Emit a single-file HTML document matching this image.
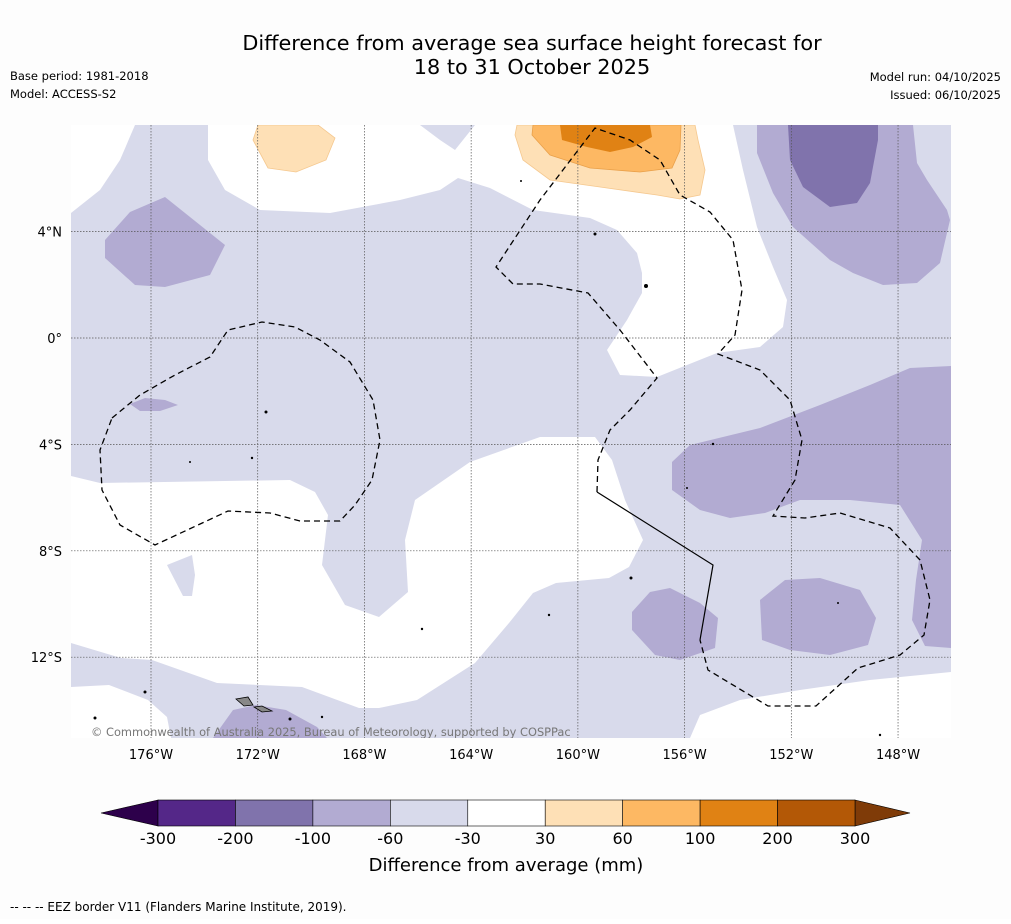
<!DOCTYPE html>
<html><head><meta charset="utf-8"><style>
html,body{margin:0;padding:0;background:#fff;}
body{width:1011px;height:919px;overflow:hidden;font-family:"Liberation Sans","DejaVu Sans",sans-serif;}
</style></head><body>
<svg id="chart" width="1011" height="919" xmlns="http://www.w3.org/2000/svg" font-family="'DejaVu Sans','Liberation Sans',sans-serif">
<rect width="1011" height="919" fill="#fdfdfd"/>
<text x="532" y="50" font-size="20.8" text-anchor="middle">Difference from average sea surface height forecast for</text>
<text x="532" y="74" font-size="20.8" text-anchor="middle">18 to 31 October 2025</text>
<text x="10" y="80" font-size="11.5">Base period: 1981-2018</text>
<text x="10" y="98" font-size="11.5">Model: ACCESS-S2</text>
<text x="1001" y="81" font-size="11.5" text-anchor="end">Model run: 04/10/2025</text>
<text x="1001" y="99" font-size="11.5" text-anchor="end">Issued: 06/10/2025</text>
<defs><clipPath id="mapclip"><rect x="71" y="125" width="880" height="613"/></clipPath></defs>
<g id="map" clip-path="url(#mapclip)">
<rect x="71" y="125" width="880" height="613" fill="#d8daeb"/>
<path fill="#fff" d="M71,125 L135,125 L120,160 L100,190 L71,213 Z"/>
<path fill="#fff" d="M208,125 L208,160 L225,190 L260,210 L330,213 L400,200 L440,190 L458,178 L490,188 L533,210 L590,218 L617,230 L637,253 L642,273 L642,293 L627,320 L607,350 L620,375 L657,377 L717,353 L760,347 L783,327 L787,300 L773,267 L757,227 L743,170 L733,125 L475,125 L455,150 L440,140 L420,125 Z"/>
<path fill="#fee0b6" stroke="#f5c88f" stroke-width="0.8" d="M517,125 L515,135 L523,160 L550,180 L600,187 L657,195 L680,199 L700,195 L705,170 L698,140 L695,125 Z"/>
<path fill="#fdb863" stroke="#e9a04a" stroke-width="0.8" d="M533,125 L532,135 L550,155 L590,168 L640,172 L672,168 L680,150 L681,125 Z"/>
<path fill="#e08214" d="M560,125 L562,140 L587,147 L610,152 L633,147 L652,137 L650,125 Z"/>
<path fill="#fee0b6" stroke="#f5c88f" stroke-width="0.8" d="M258,125 L253,140 L268,168 L296,172 L326,160 L335,138 L318,125 Z"/>
<path fill="#fff" d="M71,476 L100,483 L290,480 L315,492 L328,515 L322,565 L345,605 L379,617 L408,592 L405,540 L415,500 L470,462 L540,437 L595,437 L612,460 L625,500 L643,540 L629,567 L609,578 L556,583 L533,593 L509,623 L475,663 L417,700 L379,708 L359,708 L302,687 L217,683 L152,660 L121,658 L71,643 Z"/>
<path fill="#d8daeb" d="M167,565 L192,555 L195,575 L192,596 L183,596 Z"/>
<path fill="#fff" d="M71,687 L109,685 L148,700 L167,717 L171,738 L71,738 Z"/>
<path fill="#b2abd2" d="M213,738 L233,710 L256,705 L286,710 L317,727 L327,738 Z"/>
<path fill="#b2abd2" d="M105,240 L130,212 L165,197 L200,225 L225,245 L210,275 L165,287 L135,285 L105,258 Z"/>
<path fill="#b2abd2" d="M130,404 L145,398 L165,400 L178,405 L160,411 L140,411 Z"/>
<path fill="#b2abd2" d="M757,125 L757,153 L773,193 L793,227 L830,260 L853,273 L883,285 L917,283 L940,263 L950,220 L947,210 L927,180 L917,163 L913,125 Z"/>
<path fill="#8073ac" d="M788,125 L790,160 L803,187 L830,207 L857,203 L870,183 L878,140 L878,125 Z"/>
<path fill="#b2abd2" d="M672,462 L690,445 L760,428 L820,405 L870,385 L910,368 L951,366 L951,648 L925,646 L912,620 L916,580 L922,540 L900,505 L850,500 L800,500 L765,513 L730,518 L700,510 L672,490 Z"/>
<path fill="#b2abd2" d="M760,600 L785,580 L820,578 L860,590 L876,618 L868,645 L830,655 L790,650 L762,640 Z"/>
<path fill="#b2abd2" d="M632,612 L650,592 L670,588 L700,603 L718,618 L715,648 L680,660 L655,655 L632,630 Z"/>
<path fill="#fff" d="M951,672 L870,680 L800,690 L740,700 L700,715 L690,738 L951,738 Z"/>
<g id="grid"></g>
<path fill="none" stroke="#000" stroke-width="1.3" stroke-dasharray="6,4" d="M597,492 L598,460 L610,430 L630,410 L657,378 L620,330 L588,293 L540,284 L513,284 L496,267 L540,200 L595,128 L630,140 L660,160 L680,195 L710,212 L733,240 L742,290 L735,335 L718,354 L760,370 L790,400 L802,440 L795,480 L773,516 L805,518 L840,513 L890,528 L920,560 L930,600 L924,635 L900,655 L858,668 L816,706 L768,706 L708,670 L700,640"/>
<path fill="none" stroke="#000" stroke-width="1.2" d="M597,492 L713,565 L700,640"/>
<path fill="none" stroke="#000" stroke-width="1.3" stroke-dasharray="6,4" d="M112,418 L140,395 L175,375 L210,357 L228,330 L262,322 L295,327 L320,340 L350,362 L373,400 L380,440 L372,480 L355,505 L340,521 L300,521 L270,513 L228,511 L155,545 L120,525 L102,490 L100,450 L112,418"/>
<path fill="#888" stroke="#000" stroke-width="0.8" d="M236,699 L248,697 L253,705 L244,706 Z M254,707 L262,706 L272,711 L262,712 Z"/>
<g fill="#000">
<circle cx="266" cy="412" r="1.5"/><circle cx="252" cy="458" r="1.2"/><circle cx="190" cy="462" r="1"/><circle cx="145" cy="692" r="1.5"/><circle cx="95" cy="718" r="1.5"/><circle cx="290" cy="719" r="1.5"/><circle cx="322" cy="717" r="1.2"/><circle cx="422" cy="629" r="1.2"/><circle cx="549" cy="615" r="1.2"/><circle cx="631" cy="578" r="1.5"/><circle cx="646" cy="286" r="2"/><circle cx="595" cy="234" r="1.5"/><circle cx="713" cy="444" r="1.2"/><circle cx="687" cy="488" r="1"/><circle cx="838" cy="603" r="1"/><circle cx="521" cy="181" r="1"/><circle cx="880" cy="735" r="1.2"/>
</g>
<text x="91" y="736" font-size="11.4" fill="#777">© Commonwealth of Australia 2025, Bureau of Meteorology, supported by COSPPac</text>
</g>
<g id="axes"></g>
<g id="colorbar"></g>
<text x="506" y="871" font-size="18" text-anchor="middle">Difference from average (mm)</text>
<text x="10" y="911" font-size="12">--  --  -- EEZ border V11 (Flanders Marine Institute, 2019).</text>
</svg>
<script>
const lonTicks = [-176,-172,-168,-164,-160,-156,-152,-148];
const lonLabels = ["176°W","172°W","168°W","164°W","160°W","156°W","152°W","148°W"];
const latTicks = [4,0,-4,-8,-12];
const latLabels = ["4°N","0°","4°S","8°S","12°S"];
const levels = ["-300","-200","-100","-60","-30","30","60","100","200","300"];
const levelColors = ["#542788","#8073ac","#b2abd2","#d8daeb","#ffffff","#fee0b6","#fdb863","#e08214","#b35806"];
const NS = "http://www.w3.org/2000/svg";
function xLon(l){return 151 + (l + 176) * 26.68;}
function yLat(l){return 338 - l * 26.6;}
function mk(tag, attrs, parent){const e=document.createElementNS(NS,tag);for(const k in attrs)e.setAttribute(k,attrs[k]);parent.appendChild(e);return e;}
const grid=document.getElementById('grid'), axes=document.getElementById('axes'), cb=document.getElementById('colorbar');
lonTicks.forEach((l,i)=>{
  const x=xLon(l);
  const ln=mk('line',{x1:x,y1:125,x2:x,y2:738,stroke:'#555','stroke-width':0.7,'stroke-dasharray':'1.5,1.5'},grid);
  
  
  const t=mk('text',{x:x,y:759,'font-size':13,'text-anchor':'middle'},axes);
  t.textContent=lonLabels[i];
  
  
});
latTicks.forEach((l,i)=>{
  const y=yLat(l);
  const ln=mk('line',{x1:71,y1:y,x2:951,y2:y,stroke:'#555','stroke-width':0.7,'stroke-dasharray':'1.5,1.5'},grid);
  
  
  const t=mk('text',{x:62,y:y+5,'font-size':13,'text-anchor':'end'},axes);
  t.textContent=latLabels[i];
  
  
});
const cx0=158, cx1=855, cy0=800, cy1=826, n=levelColors.length, w=(cx1-cx0)/n;
const la=mk('path',{d:`M${cx0},${cy0} L101,813 L${cx0},${cy1} Z`,fill:'#2d004b',stroke:'#000','stroke-width':0.6},cb);


const ra=mk('path',{d:`M${cx1},${cy0} L910,813 L${cx1},${cy1} Z`,fill:'#7f3b08',stroke:'#000','stroke-width':0.6},cb);


levelColors.forEach((c,i)=>{
  const r=mk('rect',{x:cx0+i*w,y:cy0,width:w,height:cy1-cy0,fill:c,stroke:'#000','stroke-width':0.6},cb);
  
  
});
levels.forEach((v,i)=>{
  const t=mk('text',{x:cx0+i*w,y:844,'font-size':16,'text-anchor':'middle'},cb);
  t.textContent=v;
  
  
});
</script>
</body></html>
